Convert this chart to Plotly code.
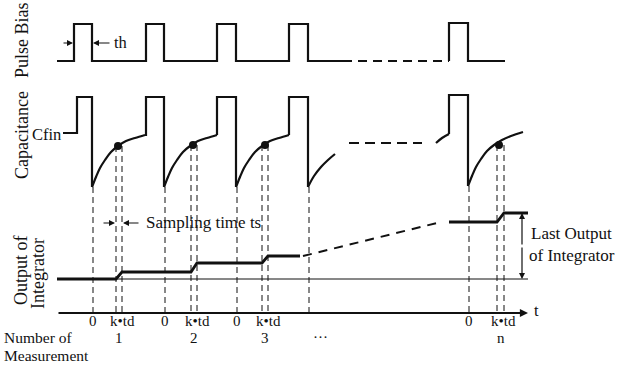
import plotly.graph_objects as go

# ---------------- data (drawing units) ----------------
# Pulse bias
bias_rise = [74, 146, 217, 289, 449]
bias_fall = [92, 164, 236, 308, 468]
bias_low, bias_high = 61, 24
bias_start, bias_end = 57, 505
bias_dash = [343, 449]            # dashed (omitted cycles) part of the baseline

# Capacitance
cap_start = 63
cfin = 133
cap_rise = [77, 146, 217, 289, 449]
cap_fall = [92, 164, 236, 308, 468]
cap_top = [97, 97, 97, 97, 95]
cap_trough = [187, 187, 187, 187, 186]
rec_dx = [0, 4, 8, 13, 19, 26, 34, 43, 53]          # full recovery transient
rec_y = [187, 177, 168, 160, 152, 146, 141, 138, 135]
frag_dx = [0, 6, 13, 20, 27]                       # partial transient after 4th pulse
frag_y = [187, 176, 167, 160, 154]
cap_dash_x = [349, 422]
cap_dash_y = 143
tail_x = [436, 442, 449]                           # end of transient before last pulse
tail_y = [143, 138, 134]
last_rec_dx = [0, 4, 8, 13, 19, 26, 34, 43, 55]
last_rec_y = [186, 176, 167, 159, 151, 145, 140, 136, 132]

# Sampling
dot_x = [118, 193, 265, 499]
dot_y = [146, 145, 145, 145]
samp_a = [116, 191, 262, 497]     # k*td
samp_b = [122, 197, 268, 504]     # k*td + ts
zero_x = [93, 165, 237, 469]      # "0" labels (measurement starts)
axis_y = 313

# Integrator output
int_x = [57, 116, 122, 191, 197, 262, 268, 300]
int_y = [279, 279, 272, 272, 263, 263, 256, 256]
int_dash_x = [303, 437]
int_dash_y = [256, 223]
int_last_x = [449, 497, 504, 528]
int_last_y = [222, 222, 213, 213]
int_base = 279
int_base_x = [57, 528]

meas_labels = ["1", "2", "3", "n"]

FONT = "Liberation Serif"
INK = "#111111"

fig = go.Figure()


def line(xs, ys, width=2.2, dash=None, shape="linear"):
    fig.add_trace(go.Scatter(x=xs, y=ys, mode="lines", hoverinfo="skip",
                             line=dict(color=INK, width=width, dash=dash, shape=shape)))


# ---- Pulse bias ----
bx = [bias_start]
by = [bias_low]
for r, f in zip(bias_rise[:4], bias_fall[:4]):
    bx += [r, r, f, f]
    by += [bias_low, bias_high, bias_high, bias_low]
bx += [bias_dash[0]]
by += [bias_low]
line(bx, by)
line(bias_dash, [bias_low, bias_low], width=1.8, dash="9px,6px")
line([bias_rise[4], bias_rise[4], bias_fall[4], bias_fall[4], bias_end],
     [bias_low, bias_high - 1, bias_high - 1, bias_low, bias_low])

# ---- Capacitance ----
prev_x, prev_y = [cap_start], [cfin]
for i in range(4):
    px = prev_x + [cap_rise[i], cap_rise[i], cap_fall[i], cap_fall[i]]
    py = prev_y + [prev_y[-1], cap_top[i], cap_top[i], cap_trough[i]]
    line(px, py)
    if i < 3:
        rx = [cap_fall[i] + d for d in rec_dx]
        line(rx, rec_y, shape="spline")
        prev_x, prev_y = [rx[-1]], [rec_y[-1]]
    else:
        rx = [cap_fall[i] + d for d in frag_dx]
        line(rx, frag_y, shape="spline")
line(cap_dash_x, [cap_dash_y, cap_dash_y], width=1.8, dash="10px,6px")
line(tail_x, tail_y, shape="spline")
line([tail_x[-1], cap_rise[4], cap_rise[4], cap_fall[4], cap_fall[4]],
     [tail_y[-1], tail_y[-1], cap_top[4], cap_top[4], cap_trough[4]])
line([cap_fall[4] + d for d in last_rec_dx], last_rec_y, shape="spline")

fig.add_trace(go.Scatter(x=dot_x, y=dot_y, mode="markers", hoverinfo="skip",
                         marker=dict(color=INK, size=8, symbol="circle")))

# ---- dashed vertical guide lines ----
for x, yt in zip(cap_fall, cap_trough):
    line([x + 1, x + 1], [yt, axis_y], width=1, dash="6px,4px")
for a, b, yd in zip(samp_a, samp_b, dot_y):
    line([a, a], [yd, axis_y], width=1, dash="6px,4px")
    line([b, b], [yd, axis_y], width=1, dash="6px,4px")

# ---- Integrator output ----
line(int_base_x, [int_base, int_base], width=1)
line(int_x, int_y, width=2.8)
line(int_dash_x, int_dash_y, width=2, dash="9px,7px")
line(int_last_x, int_last_y, width=2.8)

# ---- annotations ----
ann = []


def arrow(x0, y0, x1, y1, w=1.2, size=1.0, head=2):
    ann.append(dict(x=x1, y=y1, ax=x0, ay=y0, xref="x", yref="y", axref="x", ayref="y",
                    showarrow=True, arrowhead=head, arrowsize=size, arrowwidth=w,
                    arrowcolor=INK, text=""))


def text(x, y, s, size=16.5, xanchor="center", angle=0):
    ann.append(dict(x=x, y=y, xref="x", yref="y", text=s, showarrow=False,
                    xanchor=xanchor, yanchor="middle", textangle=angle,
                    font=dict(family=FONT, size=size, color=INK)))


# time axis
arrow(bias_start, axis_y, 528, axis_y, w=1.8, size=0.9)
text(536, 310, "t", xanchor="center")

# th marker
arrow(62, 43, bias_rise[0] - 1, 43)
arrow(111, 43, bias_fall[0] + 1, 43)
text(112, 42, "th", xanchor="left")

# sampling time marker
arrow(102, 223, samp_a[0] - 1, 223)
arrow(140, 223, samp_b[0] + 1, 223)
text(144, 222, "Sampling time ts", xanchor="left", size=17)

# last output of integrator
arrow(522, 246, 522, int_last_y[-1], w=1.2)
arrow(522, 246, 522, int_base, w=1.2)
text(529, 233, "Last Output", xanchor="left", size=17)
text(527, 255, "of Integrator", xanchor="left", size=17)

# Cfin label
text(63, 134, "Cfin", xanchor="right", size=16.5)

# rotated panel labels
text(22, 40, "Pulse Bias", size=18, angle=-90)
text(22, 135, "Capacitance", size=18, angle=-90)
text(21, 270, "Output of", size=18, angle=-90)
text(38, 274, "Integrator", size=18, angle=-90)

# axis labels
for x in zero_x:
    text(x, 321, "0", size=15)
for a, b in zip(samp_a, samp_b):
    text((a + b) / 2 + 3, 321, "k•td", size=15)
for a, b, s in zip(samp_a, samp_b, meas_labels):
    text((a + b) / 2, 338, s, size=15)
text(320, 337, "···", size=15)
text(2, 337, "Number of", xanchor="left", size=15.5)
text(2, 355, "Measurement", xanchor="left", size=15.5)

fig.update_layout(
    width=625, height=365, autosize=False,
    margin=dict(l=0, r=0, t=0, b=0),
    paper_bgcolor="white", plot_bgcolor="white",
    showlegend=False,
    xaxis=dict(range=[0, 625], visible=False, fixedrange=True),
    yaxis=dict(range=[365, 0], visible=False, fixedrange=True),
    annotations=ann,
)

fig.write_html("out.html", config={"displayModeBar": False, "staticPlot": True},
               post_script="document.body.style.margin='0px';document.body.style.overflow='hidden';")
